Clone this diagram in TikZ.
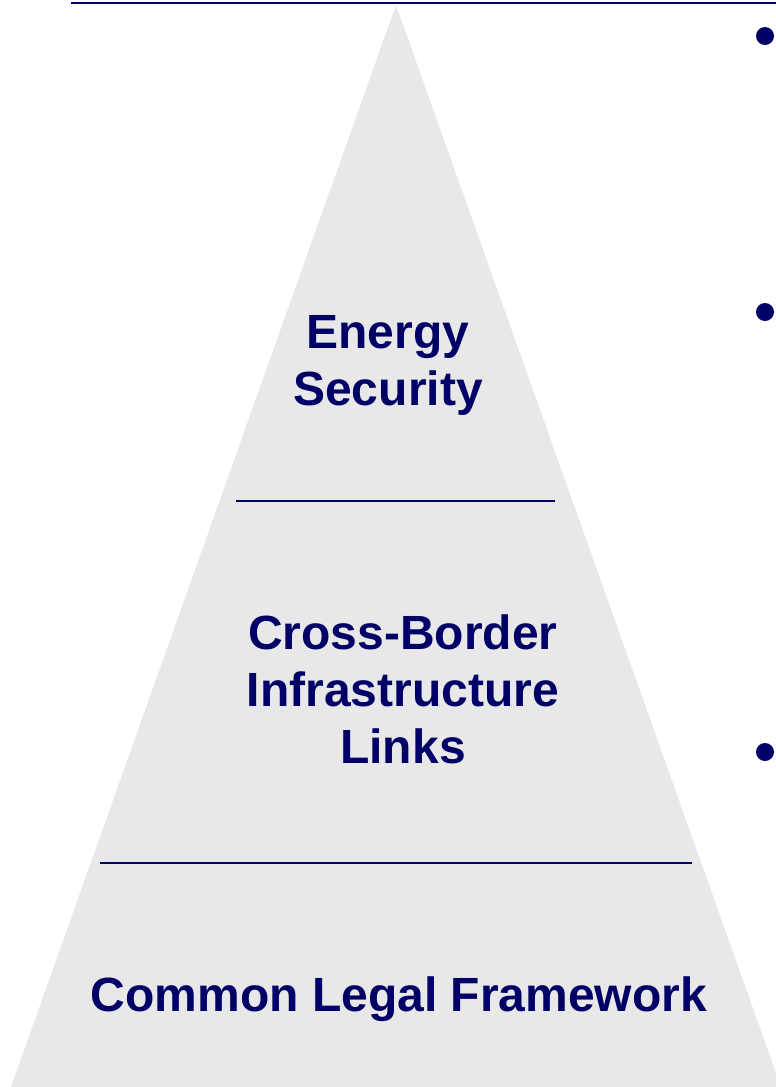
\documentclass[tikz,border=0pt]{standalone}
\usepackage{fontspec}
\setmainfont{Liberation Sans}
\usepackage{xcolor}
\usetikzlibrary{positioning,calc}
\definecolor{navy}{RGB}{0,0,102}
\colorlet{c1}{black!9}

\begin{document}
\begin{tikzpicture}[x=1pt, y=-1pt, line width=2pt]
\tikzstyle{level}=[text=navy, font=\fontsize{48}{57}\selectfont\bfseries, align=center, inner sep=0pt, anchor=base]
\tikzstyle{bullet}=[circle, fill=navy, inner sep=0pt, minimum size=18pt]
\useasboundingbox (0,0) rectangle (776,1087);
\clip (0,0) rectangle (776,1087);
% pyramid
\coordinate (apex) at (396,5);
\coordinate (left) at (11,1087);
\coordinate (right) at (781,1087);
\fill[c1] (apex) -- (left) -- (right) -- cycle;
% rules
\coordinate (top1) at (71,3);
\coordinate (top2) at (776,3);
\coordinate (cut1a) at (236,501);
\coordinate (cut1b) at (555,501);
\coordinate (cut2a) at (100,863);
\coordinate (cut2b) at (692,863);
\draw[navy] (top1) -- (top2);
\draw[navy] (cut1a) -- (cut1b);
\draw[navy] (cut2a) -- (cut2b);
% levels (base = last line)
\node[level] (security) at (388,405) {Energy\\Security};
\node[level] (links)    at (403,763) {Cross-Border\\Infrastructure\\Links};
\node[level] (legal)    at (399,1011) {Common Legal Framework};
% bullets
\node[bullet] (b1) at (765,36)  {};
\node[bullet] (b2) at (765,312) {};
\node[bullet] (b3) at (765,752) {};
\end{tikzpicture}
\end{document}
